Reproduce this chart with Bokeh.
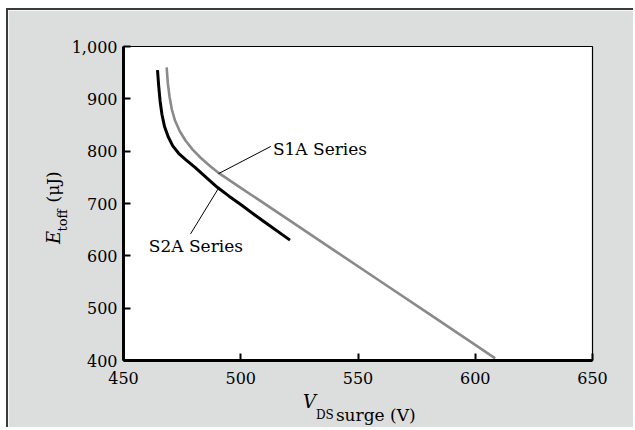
from bokeh.plotting import figure
from bokeh.models import Range1d, FixedTicker, NumeralTickFormatter, Label, Title
from bokeh.embed import file_html
from bokeh.resources import INLINE

# ---- data ----
x_ticks = [450, 500, 550, 600, 650]
y_ticks = [400, 500, 600, 700, 800, 900, 1000]

s2a_vds = [464.5, 465.0, 465.6, 466.4, 467.5, 469, 471, 473.5, 476.5, 480.5, 485, 490, 495, 500, 510, 521]
s2a_etoff = [955, 925, 896, 870, 847, 828, 810, 796, 784, 769, 751, 731, 714, 698, 665, 630]

s1a_vds = [468.4, 468.9, 469.6, 470.6, 472, 474, 476.5, 479.5, 483, 487, 491, 500, 520, 540, 560, 580, 600, 608.5]
s1a_etoff = [960, 930, 905, 880, 858, 838, 820, 803, 787, 771, 757, 730, 670, 610, 550, 490, 430, 404]

series_names = ["S1A Series", "S2A Series"]

# annotation anchors (data units)
s1a_leader = ([512.8, 490.5], [809, 757])
s2a_leader = ([478.6, 490.5], [642, 729])
s1a_text_at = (513.7, 805)
s2a_text_at = (460.8, 618)

SERIF = "DejaVu Serif"
BG = "#dcdddd"

p = figure(width=627, height=419, output_backend="svg", toolbar_location=None,
           x_range=Range1d(450, 650), y_range=Range1d(400, 1000),
           min_border_left=115, min_border_right=43, min_border_top=36, min_border_bottom=69,
           background_fill_color="white", border_fill_color=BG)
p.styles = {"border-top": "2px solid #3a3a3a", "border-left": "2px solid #3a3a3a",
            "margin-left": "6px", "margin-top": "8px"}

p.grid.visible = False
p.outline_line_color = "black"
p.outline_line_width = 1.2

for ax in (p.xaxis[0], p.yaxis[0]):
    ax.axis_line_width = 3
    ax.axis_line_color = "black"
    ax.major_tick_in = 7
    ax.major_tick_out = 0
    ax.major_tick_line_width = 2
    ax.minor_tick_line_color = None
    ax.major_label_text_font = SERIF
    ax.major_label_text_font_size = "16px"
    ax.major_label_text_color = "black"

p.xaxis.ticker = FixedTicker(ticks=x_ticks)
p.yaxis.ticker = FixedTicker(ticks=y_ticks)
p.yaxis.formatter = NumeralTickFormatter(format="0,0")
p.xaxis.major_label_standoff = 11
p.yaxis.major_label_standoff = 6

# curves
p.line(s1a_vds, s1a_etoff, line_color="#8a8a8a", line_width=2.6, line_join="round")
p.line(s2a_vds, s2a_etoff, line_color="black", line_width=3, line_join="round")

# leader lines
p.line(s1a_leader[0], s1a_leader[1], line_color="black", line_width=1)
p.line(s2a_leader[0], s2a_leader[1], line_color="black", line_width=1)

def lab(x, y, text, size):
    p.add_layout(Label(x=x, y=y, text=text, text_font=SERIF, text_font_size=size,
                       text_color="black", text_baseline="alphabetic", text_align="left"))

# series labels
lab(s1a_text_at[0], s1a_text_at[1], series_names[0], "17px")
lab(s2a_text_at[0], s2a_text_at[1], series_names[1], "17px")

def ttl(text, side, size, offset, standoff, style="normal"):
    p.add_layout(Title(text=text, align="left", vertical_align="bottom", offset=offset,
                       standoff=standoff, text_font=SERIF, text_font_style=style,
                       text_font_size=size, text_color="black"), side)

# x axis label: V_DS surge (V)
ttl("V", "below", "18px", 179.4, 4, "italic")
ttl("surge (V)", "below", "17px", 212.4, -22)
ttl("DS", "below", "12px", 192.4, -16)

# y axis label: E_toff (μJ)
ttl("toff", "left", "13px", 129, -2)
ttl("E", "left", "18px", 116.5, -21.5, "italic")
ttl("(μJ)", "left", "17px", 158, -22)

open("out.html", "w").write(file_html(p, INLINE))
